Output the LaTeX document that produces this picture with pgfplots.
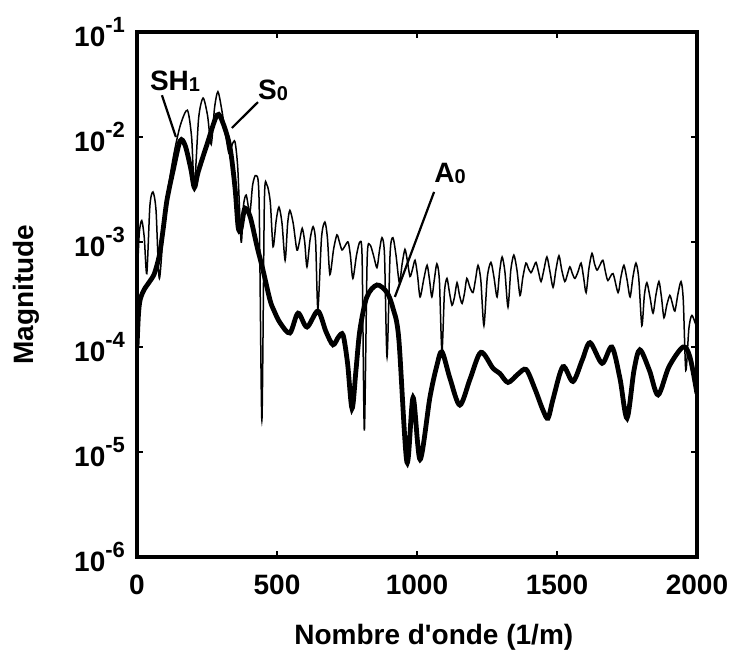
\documentclass[border=0pt]{standalone}
\usepackage{fontspec}
\setmainfont{Liberation Sans}
\usepackage{pgfplots}
\pgfplotsset{compat=1.18}

% tick label 10^-n, MATLAB style
\newcommand{\tp}[1]{10\raisebox{0.48em}{\fontsize{11}{11}\selectfont -#1}}
\newcommand{\sub}[1]{\raisebox{-0.5pt}{\fontsize{10}{10}\selectfont #1}}

\begin{document}
\begin{tikzpicture}
\useasboundingbox (-68.5pt,-49pt) rectangle (298.5pt,278.5pt);
\begin{axis}[
  at={(0pt,0pt)}, anchor=south west,
  scale only axis,
  width=280pt, height=262.5pt,
  xmin=0, xmax=2000,
  ymode=log, ymin=1e-6, ymax=1e-1,
  xtick={0,500,1000,1500,2000},
  xticklabels={0,500,1000,1500,2000},
  ytick={1e-6,1e-5,1e-4,1e-3,1e-2,1e-1},
  yticklabels={\tp{6},\tp{5},\tp{4},\tp{3},\tp{2},\tp{1}},
  yminorticks=false,
  tick align=inside,
  major tick length=3pt,
  every tick/.style={black, line width=1pt},
  axis line style={line width=1.6pt},
  font=\bfseries\fontsize{14}{16}\selectfont,
  xticklabel style={yshift=-5.5pt},
  yticklabel style={xshift=-2.5pt},
  xlabel={Nombre d\textquotesingle onde (1/m)},
  ylabel={Magnitude},
  xlabel style={at={(axis description cs:0.53,-0.152)}, anchor=center},
  ylabel style={at={(axis description cs:-0.198,0.5)}, anchor=center},
]
% thin curve
\addplot[black, line width=0.75pt, smooth, tension=0.45] coordinates {
(0,4.0e-4) (8,1.2e-3) (17,1.6e-3) (26,1.1e-3) (35,5.0e-4) (46,2.2e-3) (57,3.0e-3) (68,2.0e-3) (80,4.5e-4)
(100,2.0e-3) (130,6.5e-3) (155,1.3e-2) (180,1.8e-2) (195,1.0e-2) (205,3.4e-3)
(220,1.5e-2) (236,2.35e-2) (252,1.6e-2) (265,8.5e-3) (277,1.9e-2) (289,2.7e-2) (303,1.8e-2)
(328,7.0e-3) (340,8.5e-3) (350,9.0e-3) (360,5.0e-3) (372,1.0e-3)
(380,2.2e-3) (390,2.8e-3) (403,1.9e-3) (413,3.5e-3) (425,4.3e-3) (436,2.5e-3) (446,2.0e-5)
(455,2.5e-3) (464,3.5e-3) (476,2.4e-3) (486,9.0e-4) (497,1.6e-3) (507,2.15e-3) (518,1.5e-3)
(529,6.7e-4) (538,1.5e-3) (546,2.0e-3) (558,1.5e-3) (571,8.4e-4) (580,1.0e-3) (590,1.35e-3)
(599,1.0e-3) (607,5.8e-4) (618,1.05e-3) (629,1.4e-3) (638,1.0e-3) (646,2.3e-4) (659,1.1e-3)
(671,1.55e-3) (680,1.1e-3) (689,4.9e-4) (702,8.5e-4) (714,1.17e-3) (723,1.0e-3) (732,8.4e-4)
(743,9.2e-4) (754,1.0e-3) (762,7.5e-4) (771,4.5e-4) (784,7.5e-4) (796,1.0e-3) (804,7.0e-4)
(812,1.6e-5) (822,6.8e-4) (832,9.4e-4) (845,7.4e-4) (857,5.7e-4) (866,8.3e-4) (875,1.1e-3)
(884,7.5e-4) (893,8.0e-5) (904,7.8e-4) (914,1.1e-3) (925,7.5e-4) (937,4.1e-4) (947,6.2e-4)
(957,8.5e-4) (966,6.5e-4) (975,4.7e-4) (984,5.5e-4) (993,6.7e-4) (1002,4.8e-4) (1011,3.0e-4)
(1024,4.4e-4) (1036,6.0e-4) (1045,4.3e-4) (1053,3.0e-4) (1062,4.4e-4) (1071,6.2e-4) (1080,4.3e-4)
(1089,9.0e-5) (1098,3.3e-4) (1107,4.5e-4) (1116,3.3e-4) (1125,2.5e-4) (1134,3.0e-4) (1143,4.1e-4)
(1152,3.1e-4) (1161,2.6e-4) (1170,3.3e-4) (1178,4.5e-4) (1189,3.7e-4) (1200,3.3e-4) (1209,4.4e-4)
(1218,6.0e-4) (1228,4.3e-4) (1239,1.6e-4) (1251,4.6e-4) (1264,6.4e-4) (1275,4.6e-4) (1286,3.0e-4)
(1295,5.2e-4) (1304,7.2e-4) (1314,5.2e-4) (1325,2.4e-4) (1335,5.4e-4) (1346,7.5e-4) (1357,5.4e-4)
(1368,3.1e-4) (1378,4.6e-4) (1389,6.3e-4) (1398,5.6e-4) (1407,5.1e-4) (1416,5.7e-4) (1425,6.4e-4)
(1434,5.2e-4) (1443,4.2e-4) (1453,5.4e-4) (1464,7.2e-4) (1475,5.2e-4) (1486,3.7e-4) (1496,5.4e-4)
(1507,7.4e-4) (1517,5.4e-4) (1528,4.2e-4) (1537,4.9e-4) (1546,5.8e-4) (1555,5.0e-4) (1564,4.5e-4)
(1575,5.2e-4) (1586,6.3e-4) (1595,4.6e-4) (1604,3.3e-4) (1614,5.6e-4) (1625,7.8e-4) (1634,6.2e-4)
(1643,5.4e-4) (1653,6.0e-4) (1664,6.7e-4) (1673,5.2e-4) (1682,4.3e-4) (1700,5.0e-4) (1718,3.3e-4)
(1728,4.6e-4) (1739,6.0e-4) (1750,4.4e-4) (1761,3.0e-4) (1771,4.6e-4) (1782,6.3e-4) (1792,4.5e-4)
(1803,1.6e-4) (1812,3.1e-4) (1821,4.1e-4) (1832,3.0e-4) (1843,2.1e-4) (1853,3.1e-4) (1864,4.2e-4)
(1873,3.0e-4) (1882,1.9e-4) (1892,2.5e-4) (1903,3.1e-4) (1912,2.6e-4) (1921,2.2e-4) (1932,3.2e-4)
(1943,4.2e-4) (1951,2.8e-4) (1960,6.0e-5) (1971,1.5e-4) (1982,2.0e-4) (2000,1.5e-4)
};
% thick curve
\addplot[black, line width=2.4pt, smooth, tension=0.5] coordinates {
(0,1.0e-4) (5,2.0e-4) (11,2.8e-4) (25,3.5e-4) (45,4.2e-4) (62,5.0e-4) (80,7.5e-4) (93,1.3e-3)
(107,2.5e-3) (129,4.8e-3) (154,9.2e-3) (172,8.3e-3) (192,5.0e-3) (205,3.3e-3) (218,4.6e-3)
(250,8.5e-3) (286,1.62e-2) (307,1.36e-2) (332,8.0e-3) (350,3.3e-3) (361,1.4e-3) (370,1.3e-3)
(378,1.7e-3) (386,2.1e-3) (404,1.75e-3) (429,9.0e-4) (450,5.4e-4) (475,2.8e-4) (490,2.2e-4)
(511,1.7e-4) (546,1.36e-4) (575,2.1e-4) (607,1.55e-4) (646,2.2e-4) (675,1.4e-4) (700,1.05e-4)
(720,1.25e-4) (736,1.3e-4) (752,7.0e-5) (768,2.6e-5) (782,6.0e-5) (796,1.45e-4) (821,3.0e-4)
(857,3.9e-4) (893,3.3e-4) (915,2.3e-4) (935,1.2e-4) (964,8.0e-6) (986,3.3e-5) (1011,8.5e-6)
(1046,3.3e-5) (1070,6.5e-5) (1089,9.0e-5) (1118,5.0e-5) (1153,2.8e-5) (1190,5.0e-5) (1228,8.9e-5)
(1271,6.3e-5) (1296,5.6e-5) (1325,4.6e-5) (1360,5.5e-5) (1390,6.1e-5) (1421,4.0e-5) (1450,2.5e-5)
(1468,2.1e-5) (1486,3.2e-5) (1521,6.5e-5) (1557,4.7e-5) (1590,7.5e-5) (1618,1.1e-4) (1661,7.0e-5)
(1696,1.0e-4) (1725,5.0e-5) (1750,2.1e-5) (1775,6.0e-5) (1796,9.4e-5) (1830,6.0e-5) (1861,3.5e-5)
(1900,6.5e-5) (1950,1.0e-4) (1975,8.0e-5) (2000,3.6e-5)
};
% mode labels
\draw[line width=1.1pt] (axis cs:89,2.5e-2) -- (axis cs:139,1.0e-2);
\draw[line width=1.1pt] (axis cs:432,2.15e-2) -- (axis cs:339,1.22e-2);
\draw[line width=1.1pt] (axis cs:1061,3.0e-3) -- (axis cs:921,3.0e-4);
\node[font=\bfseries\fontsize{14}{16}\selectfont] at (axis cs:136,3.4e-2) {SH\sub{1}};
\node[font=\bfseries\fontsize{14}{16}\selectfont] at (axis cs:486,2.8e-2) {S\sub{0}};
\node[font=\bfseries\fontsize{14}{16}\selectfont] at (axis cs:1118,4.45e-3) {A\sub{0}};
\end{axis}
\end{tikzpicture}
\end{document}
